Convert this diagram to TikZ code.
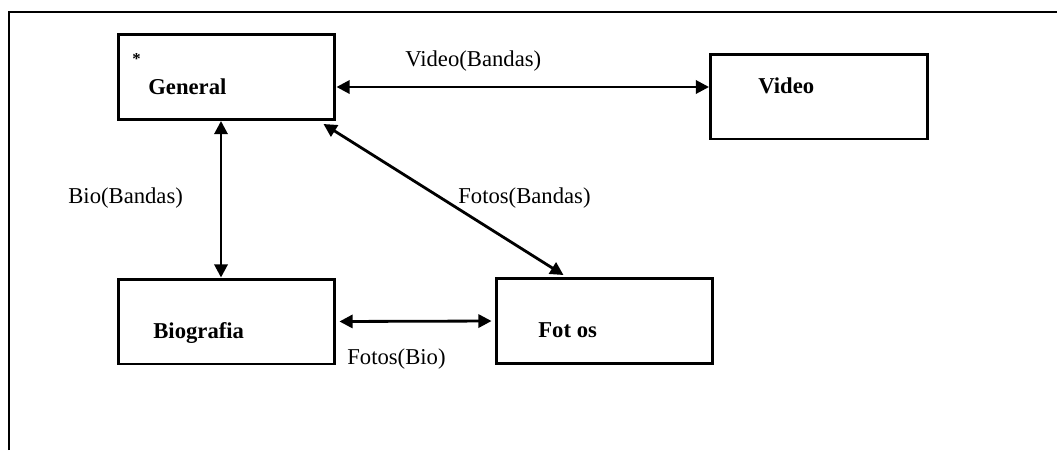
\documentclass[tikz,border=0pt]{standalone}
\usepackage{fontspec}
\setmainfont{Liberation Serif}
\usetikzlibrary{arrows.meta,calc}

\begin{document}
\begin{tikzpicture}[
  x=0.02cm, y=-0.02cm, >={Triangle[length=7.5pt,width=7.5pt]},
  font=\fontsize{12.9}{15}\selectfont,
  caja/.style={draw, line width=1.7pt, minimum width=4.34cm,
    minimum height=1.7cm, inner sep=0pt},
  titulo/.style={anchor=base west, inner sep=0pt,
    font=\fontsize{12.9}{15}\selectfont\bfseries},
  rel/.style={anchor=base west, inner sep=0pt},
  enlace/.style={<->, line width=1.6pt},
]
\useasboundingbox (0,0) rectangle (1057,450);

% Frame (cut at right and bottom)
\draw[line width=1.7pt] (9,450) -- (9,12) -- (1057,12);

% Pages
\node[caja] (general) at (226.5,77)   {};
\node[caja] (video)   at (819,96.5)   {};
\node[caja] (bio)     at (226.5,321.5) {};
\node[caja] (fotos)   at (604.5,321)  {};

% Page titles
\node[titulo, font=\fontsize{9.5}{11}\selectfont\bfseries] (star)
  at (132,64) {*};
\node[titulo] (generaltx) at (148,94)  {General};
\node[titulo] (videotx)   at (758,93)  {Video};
\node[titulo] (biotx)     at (153,338) {Biografia};
\node[titulo] (fotostx)   at (538,337) {Fot os};

% Links
\draw[enlace] (general.east |- 0,87) -- (video.west |- 0,87);
\draw[enlace] (general.south -| 221,0) -- (bio.north -| 221,0);
\draw[enlace] ($(general.south east)+(-13,3)$) -- ($(fotos.north)+(-41,-2)$);
\draw[enlace, shorten <=1.7pt, shorten >=1.7pt] (bio.east) -- (fotos.west);

% Link labels
\node[rel] (lvideo) at (405,66)  {Video(Bandas)};
\node[rel] (lbio)   at (68,203)  {Bio(Bandas)};
\node[rel] (lfotos) at (458,203) {Fotos(Bandas)};
\node[rel] (lfb)    at (347,364) {Fotos(Bio)};

\end{tikzpicture}
\end{document}
